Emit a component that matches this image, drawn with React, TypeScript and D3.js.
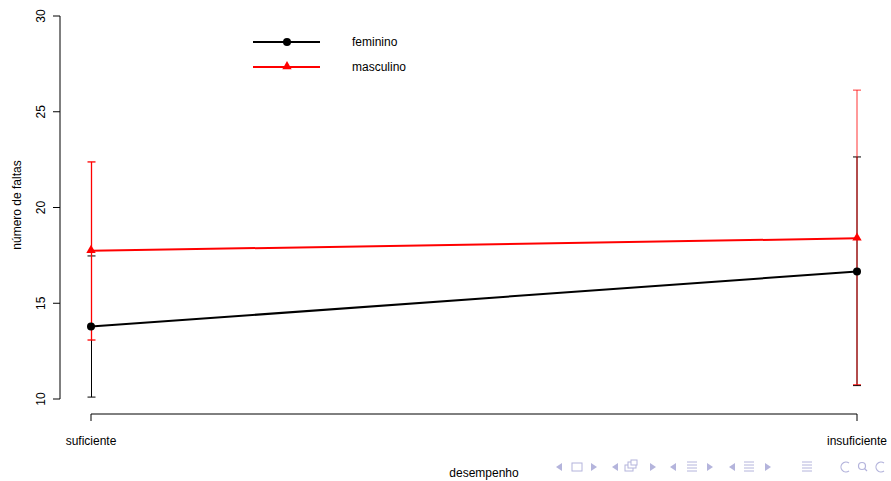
import React from "react";
import * as d3 from "d3";

const categories = ["suficiente", "insuficiente"];
const seriesNames = ["feminino", "masculino"];
const femMean = [13.78, 16.66];
const femLow = [10.1, 10.7];
const femHigh = [17.47, 22.64];
const mascMean = [17.74, 18.39];
const mascLow = [13.08, 10.75];
const mascHigh = [22.38, 26.13];
const yTicks = [10, 15, 20, 25, 30];

const W = 891;
const H = 481;
const FONT = "'Liberation Sans', Arial, Helvetica, sans-serif";

export default function App() {
  const y = d3.scaleLinear().domain([10, 30]).range([399, 16]);
  const x = d3.scalePoint<string>().domain(categories).range([91, 857]);

  const series = [
    { name: seriesNames[0], mean: femMean, low: femLow, high: femHigh, color: "#000000", shape: "circle", barOpacity: [1, 1] },
    { name: seriesNames[1], mean: mascMean, low: mascLow, high: mascHigh, color: "#ff0000", shape: "triangle", barOpacity: [1, 0.8] },
  ];

  const line = d3
    .line<number>()
    .x((_, i) => x(categories[i]) as number)
    .y((d) => y(d));

  const tri = d3.symbol().type(d3.symbolTriangle).size(38)();

  const marker = (shape: string, cx: number, cy: number, color: string, key?: string) =>
    shape === "circle" ? (
      <circle key={key} cx={cx} cy={cy} r={4} fill={color} />
    ) : (
      <path key={key} d={tri as string} transform={`translate(${cx},${cy - 0.5})`} fill={color} />
    );

  const navColor = "#b4b4dc";
  const navY = 467;
  const leftTri = (cx: number) => `M${cx + 3},${navY - 4}L${cx - 3},${navY}L${cx + 3},${navY + 4}Z`;
  const rightTri = (cx: number) => `M${cx - 3},${navY - 4}L${cx + 3},${navY}L${cx - 3},${navY + 4}Z`;
  const linesIcon = (cx: number, k: string) => (
    <g key={k} stroke={navColor} strokeWidth={1}>
      {[-5, -2, 1, 4].map((dy, i) => (
        <line key={i} x1={cx - 5} x2={cx + 5} y1={navY + dy} y2={navY + dy} />
      ))}
    </g>
  );

  return (
    <svg width={W} height={H} style={{ position: "absolute", left: 0, top: 0, background: "#fff" }} fontFamily={FONT}>
      <rect width={W} height={H} fill="#fff" />
      {/* y axis */}
      <line x1={60} x2={60} y1={y(30)} y2={y(10)} stroke="#000" strokeWidth={1} />
      {yTicks.map((t) => (
        <g key={t}>
          <line x1={53} x2={60} y1={y(t)} y2={y(t)} stroke="#000" />
          <text
            transform={`translate(45,${y(t)}) rotate(-90)`}
            textAnchor="middle"
            fontSize={12}
            fill="#000"
          >
            {t}
          </text>
        </g>
      ))}
      <text transform={`translate(21,205) rotate(-90)`} textAnchor="middle" fontSize={12}>
        número de faltas
      </text>
      {/* x axis */}
      <line x1={x(categories[0])} x2={x(categories[1])} y1={414} y2={414} stroke="#000" />
      {categories.map((c) => (
        <g key={c}>
          <line x1={x(c)} x2={x(c)} y1={414} y2={421} stroke="#000" />
          <text x={x(c)} y={445} textAnchor="middle" fontSize={12}>
            {c}
          </text>
        </g>
      ))}
      <text x={484} y={477} textAnchor="middle" fontSize={12}>
        desempenho
      </text>
      {/* error bars */}
      {series.map((s) => (
        <g key={s.name + "eb"} stroke={s.color}>
          {categories.map((c, i) => {
            const cx = (x(c) as number) + (i === 0 ? 0.5 : 0);
            const sw = s.color === "#ff0000" && i === 0 ? 1.3 : 1;
            return (
              <g key={c} strokeOpacity={s.barOpacity[i]} strokeWidth={sw}>
                <line x1={cx} x2={cx} y1={y(s.low[i])} y2={y(s.high[i])} />
                <line x1={cx - 4} x2={cx + 4} y1={y(s.low[i])} y2={y(s.low[i])} />
                <line x1={cx - 4} x2={cx + 4} y1={y(s.high[i])} y2={y(s.high[i])} />
              </g>
            );
          })}
        </g>
      ))}
      {/* lines + points */}
      {series.map((s) => (
        <g key={s.name}>
          <path d={line(s.mean) as string} fill="none" stroke={s.color} strokeWidth={2} />
          {s.mean.map((v, i) => marker(s.shape, x(categories[i]) as number, y(v), s.color, String(i)))}
        </g>
      ))}
      {/* legend */}
      {series.map((s, i) => {
        const ly = 42 + i * 25;
        return (
          <g key={s.name + "lg"}>
            <line x1={253} x2={320} y1={ly} y2={ly} stroke={s.color} strokeWidth={2} />
            {marker(s.shape, 287, ly, s.color)}
            <text x={352} y={ly + 4} fontSize={12}>
              {s.name}
            </text>
          </g>
        );
      })}
      {/* beamer navigation symbols */}
      <g fill={navColor} stroke="none">
        <path d={leftTri(559)} />
        <rect x={572} y={navY - 4} width={10} height={8} fill="none" stroke={navColor} />
        <path d={rightTri(594)} />
        <path d={leftTri(615)} />
        <rect x={625} y={navY - 2} width={8} height={6} fill="none" stroke={navColor} />
        <rect x={628} y={navY - 5} width={8} height={6} fill="#fff" stroke={navColor} />
        <rect x={631} y={navY - 7} width={6} height={5} fill="#fff" stroke={navColor} />
        <path d={rightTri(653)} />
        <path d={leftTri(673)} />
        <path d={rightTri(710)} />
        <path d={leftTri(732)} />
        <path d={rightTri(768)} />
      </g>
      {linesIcon(692, "a")}
      {linesIcon(749, "b")}
      {linesIcon(807, "c")}
      <g fill="none" stroke={navColor} strokeWidth={1.2}>
        <path d={`M843,${navY - 4}A5,5 0 1,1 843,${navY + 4}`} transform="scale(-1,1) translate(-1692,0)" />
        <circle cx={862} cy={navY - 1} r={3.5} />
        <line x1={864.5} y1={navY + 1.5} x2={867} y2={navY + 4} />
        <path d={`M884,${navY - 4}A5,5 0 1,0 884,${navY + 4}`} />
      </g>
    </svg>
  );
}
